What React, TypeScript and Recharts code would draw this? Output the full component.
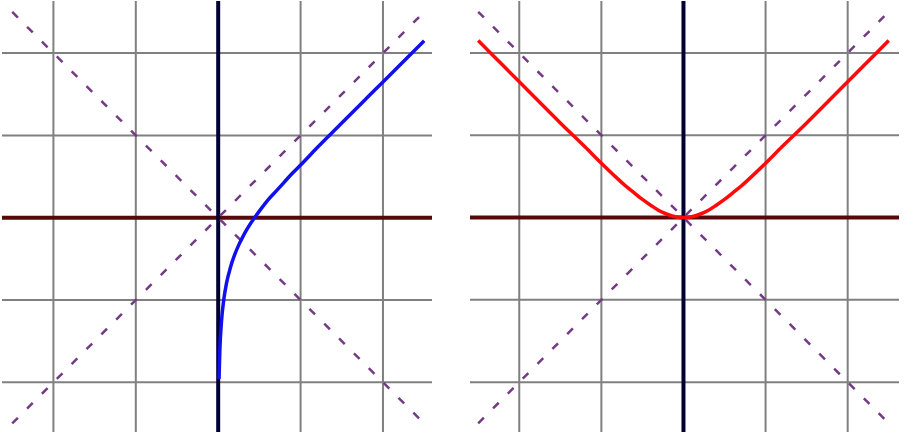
import { LineChart, Line, XAxis, YAxis, ReferenceLine } from "recharts"

// grid positions (in graph units) and the two asymptote guides
const gridTicks = [-2, -1, 1, 2]
const guideX = [-2.5, 2.5]
const guideUp = [-2.5, 2.5]
const guideDown = [2.5, -2.5]

// left panel: blue curve
const blueX = [0.01, 0.02, 0.04, 0.07, 0.1, 0.15, 0.2, 0.25, 0.3, 0.35, 0.44, 0.5, 0.6, 0.7, 0.8, 0.9, 1.0, 1.2, 1.5, 1.8, 2.0, 2.2, 2.5]
const blueY = [-1.96, -1.61, -1.26, -0.98, -0.8, -0.6, -0.45, -0.33, -0.23, -0.14, 0.0, 0.08, 0.21, 0.32, 0.43, 0.54, 0.64, 0.85, 1.15, 1.45, 1.65, 1.85, 2.15]

// right panel: red curve
const redX = [-2.5, -2.2, -2.0, -1.8, -1.5, -1.2, -1.0, -0.8, -0.7, -0.6, -0.5, -0.4, -0.3, -0.2, -0.1, 0, 0.1, 0.2, 0.3, 0.4, 0.5, 0.6, 0.7, 0.8, 1.0, 1.2, 1.5, 1.8, 2.0, 2.2, 2.5]
const redY = [2.15, 1.85, 1.65, 1.45, 1.15, 0.86, 0.66, 0.47, 0.38, 0.3, 0.22, 0.15, 0.085, 0.04, 0.01, 0, 0.01, 0.04, 0.085, 0.15, 0.22, 0.3, 0.38, 0.47, 0.66, 0.86, 1.15, 1.45, 1.65, 1.85, 2.15]

const zip = (xs: number[], ys: number[]) => xs.map((x, i) => ({ x, y: ys[i] }))

const GRID = "#808080"
const GUIDE = "#743a86"

interface PanelProps {
  left: number
  width: number
  xDomain: [number, number]
  yDomain: [number, number]
  curve: { x: number; y: number }[]
  color: string
}

function Panel({ left, width, xDomain, yDomain, curve, color }: PanelProps) {
  return (
    <div style={{ position: "absolute", left, top: 1 }}>
      <LineChart width={width} height={431} margin={{ top: 0, right: 0, bottom: 0, left: 0 }}>
        <XAxis type="number" dataKey="x" domain={xDomain} hide allowDataOverflow />
        <YAxis type="number" dataKey="y" domain={yDomain} hide allowDataOverflow width={0} />
        {gridTicks.map((t) => (
          <ReferenceLine key={"gx" + t} x={t} stroke={GRID} strokeWidth={2} />
        ))}
        {gridTicks.map((t) => (
          <ReferenceLine key={"gy" + t} y={t} stroke={GRID} strokeWidth={2} />
        ))}
        <ReferenceLine y={0} stroke="#580808" strokeWidth={4} />
        <ReferenceLine x={0} stroke="#000033" strokeWidth={4} />
        <Line
          data={zip(guideX, guideUp)}
          dataKey="y"
          type="linear"
          stroke={GUIDE}
          strokeWidth={2.5}
          strokeDasharray="8 13"
          dot={false}
          isAnimationActive={false}
        />
        <Line
          data={zip(guideX, guideDown)}
          dataKey="y"
          type="linear"
          stroke={GUIDE}
          strokeWidth={2.5}
          strokeDasharray="8 13"
          dot={false}
          isAnimationActive={false}
        />
        <Line
          data={curve}
          dataKey="y"
          type="monotone"
          stroke={color}
          strokeWidth={3.5}
          dot={false}
          isAnimationActive={false}
        />
      </LineChart>
    </div>
  )
}

export default function App() {
  return (
    <div style={{ position: "fixed", left: 0, top: 0, width: 905, height: 434, background: "#fff" }}>
      <Panel
        left={2}
        width={430}
        xDomain={[-2.624, 2.595]}
        yDomain={[-2.604, 2.633]}
        curve={zip(blueX, blueY)}
        color="#1010ee"
      />
      <Panel
        left={470}
        width={429}
        xDomain={[-2.6, 2.625]}
        yDomain={[-2.606, 2.631]}
        curve={zip(redX, redY)}
        color="#ff0a0a"
      />
    </div>
  )
}
